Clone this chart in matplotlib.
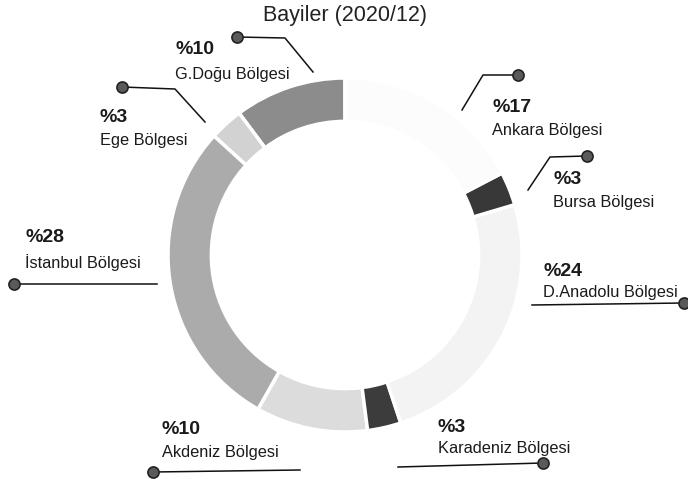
import matplotlib.pyplot as plt
from matplotlib.lines import Line2D

plt.rcParams['font.family'] = ['Liberation Sans', 'DejaVu Sans']

# data (counter-clockwise from 12 o'clock)
regions = ['G.Doğu Bölgesi', 'Ege Bölgesi', 'İstanbul Bölgesi', 'Akdeniz Bölgesi',
           'Karadeniz Bölgesi', 'D.Anadolu Bölgesi', 'Bursa Bölgesi', 'Ankara Bölgesi']
shares = [10, 3, 28, 10, 3, 24, 3, 17]
colors = ['#8c8c8c', '#d2d2d2', '#ababab', '#dcdcdc', '#3c3c3c', '#f3f3f3', '#383838', '#fcfcfc']

# label layout in pixels: text left x, pct y, name y, leader polyline (dot first)
layout = [
    (175, 50, 75, [(237, 37), (285, 38), (313, 72)]),
    (100, 117, 140, [(122, 87), (175, 89), (205, 122)]),
    (25, 237, 263, [(14, 284), (157, 284)]),
    (162, 430, 452, [(153, 472), (300, 470)]),
    (438, 427, 448, [(543, 463), (398, 467)]),
    (543, 272, 293, [(684, 303), (532, 305)]),
    (553, 180, 203, [(587, 156), (550, 157), (528, 190)]),
    (492, 108, 130, [(518, 75), (483, 75), (462, 110)]),
]

W, H = 688, 479
fig = plt.figure(figsize=(W / 100, H / 100), dpi=100)

cx, cy, r = 345, 255, 177
ax = fig.add_axes([(cx - r) / W, (H - cy - r) / H, 2 * r / W, 2 * r / H])
ax.pie(shares, colors=colors, startangle=90, counterclock=True, radius=1,
       wedgeprops=dict(width=0.245, edgecolor='white', linewidth=2.5))
ax.set_xlim(-1, 1)
ax.set_ylim(-1, 1)
ax.set_aspect('equal')
ax.axis('off')

fig.text(cx / W, 1 - 16 / H, 'Bayiler (2020/12)', ha='center', va='center',
         fontsize=15.5, color='#222222')

for name, val, (tx, py, ny, pts) in zip(regions, shares, layout):
    fig.text(tx / W, 1 - py / H, f'%{val}', ha='left', va='center',
             fontsize=14, fontweight='bold', color='#1a1a1a')
    fig.text(tx / W, 1 - ny / H, name, ha='left', va='center',
             fontsize=11.8, color='#1a1a1a')
    xs = [p[0] / W for p in pts]
    ys = [1 - p[1] / H for p in pts]
    fig.add_artist(Line2D(xs, ys, color='#111111', linewidth=1.1))
    fig.add_artist(Line2D([xs[0]], [ys[0]], marker='o', markersize=8,
                          markerfacecolor='#5a5a5a', markeredgecolor='#222222',
                          markeredgewidth=1.2, linestyle='none'))

fig.savefig('out.png', dpi=100)
